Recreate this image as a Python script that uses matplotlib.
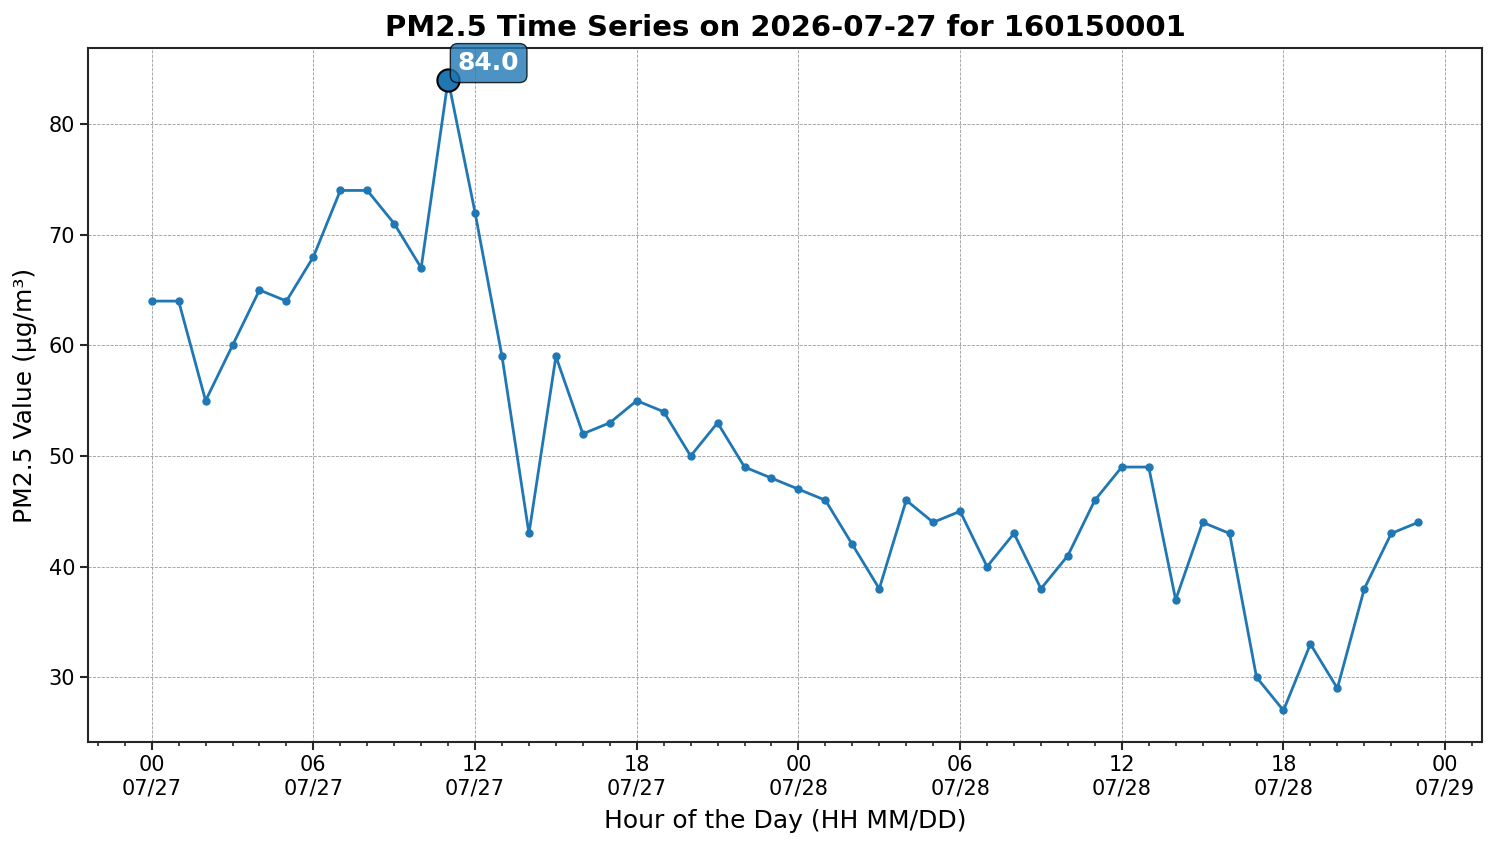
import matplotlib
matplotlib.use("Agg")
import matplotlib.pyplot as plt
import matplotlib.dates as mdates
import numpy as np
import pandas as pd

# hourly PM2.5 values, 2026-07-27 00:00 .. 2026-07-28 23:00
day1 = [64, 64, 55, 60, 65, 64, 68, 74, 74, 71, 67, 84,
        72, 59, 43, 59, 52, 53, 55, 54, 50, 53, 49, 48]
day2 = [47, 46, 42, 38, 46, 44, 45, 40, 43, 38, 41, 46,
        49, 49, 37, 44, 43, 30, 27, 33, 29, 38, 43, 44]
values = np.array(day1 + day2, dtype=float)
times = pd.date_range("2026-07-27 00:00", periods=len(values), freq="h")

station = "160150001"
date_str = "2026-07-27"

fig, ax = plt.subplots(figsize=(14.98, 8.47), dpi=100)
ax.plot(times, values, color="#1f77b4", marker="o", markersize=5, linewidth=2)

imax = int(np.argmax(values))
ax.plot(times[imax], values[imax], marker="o", markersize=16,
        color="#1f77b4", markeredgecolor="black", markeredgewidth=1.5)
ax.annotate(f"{values[imax]:.1f}", (times[imax], values[imax]),
            xytext=(7, 7), textcoords="offset points",
            fontsize=18, fontweight="bold", color="white",
            bbox=dict(boxstyle="round,pad=0.3", facecolor="#1f77b4",
                      edgecolor="black", alpha=0.8))

ax.xaxis.set_major_locator(mdates.HourLocator(byhour=range(0, 24, 6)))
ax.xaxis.set_minor_locator(mdates.HourLocator())
ax.xaxis.set_major_formatter(mdates.DateFormatter("%H\n%m/%d"))
ax.tick_params(axis="both", which="major", labelsize=15, length=6, width=1.5,
               color="#262626")
ax.tick_params(axis="x", which="minor", length=3, width=1.2, color="#262626")

ax.grid(True, which="major", linestyle="--", linewidth=0.6, color="gray", alpha=0.8)
for s in ax.spines.values():
    s.set_linewidth(1.5)
    s.set_color("#262626")

ax.set_title(f"PM2.5 Time Series on {date_str} for {station}",
             fontsize=21, fontweight="bold", pad=9)
ax.set_xlabel("Hour of the Day (HH MM/DD)", fontsize=18, labelpad=8)
ax.set_ylabel("PM2.5 Value (µg/m³)", fontsize=18, labelpad=8)

fig.subplots_adjust(left=0.059, right=0.989, top=0.943, bottom=0.124)
fig.savefig("out.png", dpi=100)
